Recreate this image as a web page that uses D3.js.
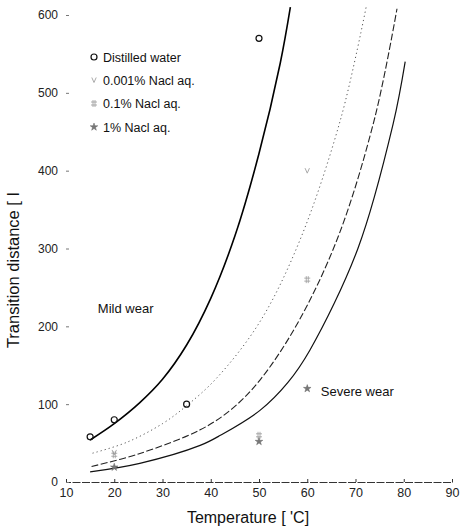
<!DOCTYPE html>
<html>
<head>
<meta charset="utf-8">
<script src="https://cdn.jsdelivr.net/npm/d3@7"></script>
<style>
  html, body { margin: 0; padding: 0; background: #fff; }
  svg { display: block; font-family: "Liberation Sans", Arial, sans-serif; }
</style>
</head>
<body>
<svg id="chart" width="460" height="530"></svg>
<script>
// ---- data ----
const xTicks = [10, 20, 30, 40, 50, 60, 70, 80, 90];
const yTicks = [0, 100, 200, 300, 400, 500, 600];
const seriesNames = ["Distilled water", "0.001% Nacl aq.", "0.1% Nacl aq.", "1% Nacl aq."];

// measured points
const distilledPts = [[15, 58], [20, 80], [35, 100], [50, 570]];
const nacl0001Pts = [[20, 38], [60, 400]];
const nacl01Pts = [[20, 35], [50, 60], [60, 260]];
const nacl1Pts = [[20, 19], [50, 52], [60, 120]];

// fitted curves
const distilledCurve = [[15, 54], [20, 75], [25.3, 102], [30, 132], [35, 176], [40, 236], [45, 316], [50, 422], [54.4, 538], [56.5, 610]];
const nacl0001Curve = [[15.5, 37], [22.6, 51], [30, 75], [35, 98], [41.3, 134], [50.2, 206], [58.5, 311], [67, 468], [72.2, 610]];
const nacl01Curve = [[15.3, 20], [25, 36], [37.8, 67], [44.4, 94], [50.2, 131], [58, 204], [66.4, 315], [74, 468], [78.6, 608]];
const nacl1Curve = [[15, 13], [25.3, 24], [37.8, 47], [42, 60], [50.2, 92], [56, 128], [60.6, 170], [70.5, 300], [77.8, 460], [80.3, 540]];

const annotations = [
  { text: "Mild wear", x: 16.6, y: 222 },
  { text: "Severe wear", x: 62.8, y: 115 }
];

// ---- drawing ----
const svg = d3.select("#chart");
const x = d3.scaleLinear().domain([10, 90]).range([66, 452]);
const y = d3.scaleLinear().domain([0, 600]).range([482, 15]);

// x axis
const xAxis = d3.axisBottom(x).tickValues(xTicks).tickSize(-3).tickPadding(6).tickFormat(d3.format("d"));
const gx = svg.append("g").attr("transform", `translate(0,${y(0)})`).call(xAxis);
gx.select(".domain").attr("stroke", "#333").attr("stroke-width", 1).attr("stroke-dasharray", "8,1.5");
gx.selectAll(".tick line").attr("stroke", "#333");
gx.selectAll("text").attr("font-size", 12.5).attr("fill", "#222");

// y axis (ticks + labels only)
const yAxis = d3.axisLeft(y).tickValues(yTicks).tickSize(-3).tickPadding(8).tickFormat(d3.format("d"));
const gy = svg.append("g").attr("transform", `translate(${x(10)},0)`).call(yAxis);
gy.select(".domain").remove();
gy.selectAll(".tick line").attr("stroke", "#777");
gy.selectAll("text").attr("font-size", 12).attr("fill", "#222");

// axis titles
svg.append("text").attr("x", 248).attr("y", 523).attr("text-anchor", "middle")
  .attr("font-size", 16).attr("fill", "#111").text("Temperature [ 'C]");
svg.append("text").attr("transform", "translate(19,270) rotate(-90)").attr("text-anchor", "middle")
  .attr("font-size", 16.5).attr("fill", "#111").text("Transition distance [ I");

// curves
const line = d3.line().x(d => x(d[0])).y(d => y(d[1])).curve(d3.curveCatmullRom.alpha(0.5));
const curveDefs = [
  { data: distilledCurve, stroke: "#000", width: 1.6, dash: null },
  { data: nacl0001Curve, stroke: "#555", width: 1.0, dash: "1.2,3" },
  { data: nacl01Curve, stroke: "#222", width: 1.1, dash: "7,2.5" },
  { data: nacl1Curve, stroke: "#111", width: 1.2, dash: null }
];
curveDefs.forEach(c => {
  svg.append("path").attr("d", line(c.data)).attr("fill", "none")
    .attr("stroke", c.stroke).attr("stroke-width", c.width)
    .attr("stroke-dasharray", c.dash);
});

// markers
function drawMarker(g, kind, cx, cy) {
  if (kind === 0) {
    g.append("circle").attr("cx", cx).attr("cy", cy).attr("r", 3)
      .attr("fill", "none").attr("stroke", "#111").attr("stroke-width", 1.2);
  } else if (kind === 1) {
    g.append("path").attr("d", `M${cx - 2.2},${cy - 2.5} L${cx},${cy + 2.5} L${cx + 2.2},${cy - 2.5}`)
      .attr("fill", "none").attr("stroke", "#aaa").attr("stroke-width", 1);
  } else if (kind === 2) {
    g.append("path").attr("d",
      `M${cx - 3},${cy - 1.5} H${cx + 3} M${cx - 3},${cy + 1.5} H${cx + 3} M${cx - 1},${cy - 3.5} V${cy + 3.5} M${cx + 1},${cy - 3.5} V${cy + 3.5}`)
      .attr("fill", "none").attr("stroke", "#999").attr("stroke-width", 0.8);
  } else {
    const sym = d3.symbol().type(d3.symbolStar).size(18);
    g.append("path").attr("d", sym()).attr("transform", `translate(${cx},${cy})`)
      .attr("fill", "#777").attr("stroke", "#666").attr("stroke-width", 0.5);
  }
}
const gm = svg.append("g");
[distilledPts, nacl0001Pts, nacl01Pts, nacl1Pts].forEach((pts, i) => {
  pts.forEach(p => drawMarker(gm, i, x(p[0]), y(p[1])));
});

// legend
const legendY = [57, 80, 103.5, 127];
seriesNames.forEach((name, i) => {
  drawMarker(svg, i, 94, legendY[i]);
  svg.append("text").attr("x", 103).attr("y", legendY[i] + 4.5).attr("font-size", 12.5)
    .attr("fill", "#111").text(name);
});

// annotations
annotations.forEach(a => {
  svg.append("text").attr("x", x(a.x)).attr("y", y(a.y)).attr("font-size", 13)
    .attr("fill", "#111").attr("dominant-baseline", "middle").text(a.text);
});
</script>
</body>
</html>
